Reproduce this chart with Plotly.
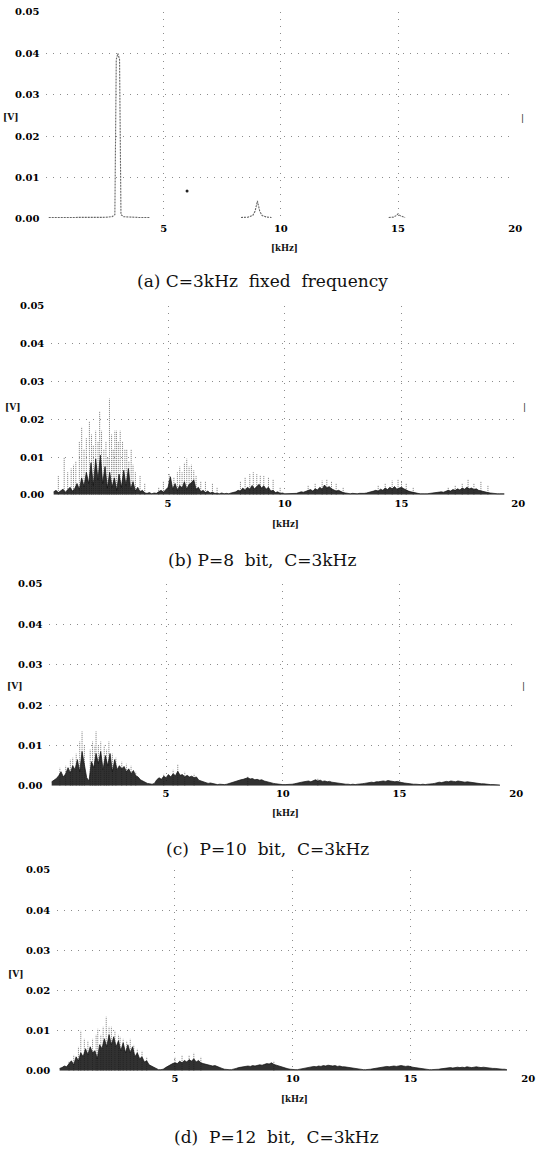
import plotly.graph_objects as go

W, H = 546, 1156

# ---------------- data (amplitudes in mV, frequencies in kHz) ----------------
# (a) C=3kHz fixed frequency : line spectrum with harmonics (None = no trace)
FREQ_A = [0.1, 0.5, 1.0, 1.5, 2.0, 2.5, 2.8, 2.92, 2.98, 3.05, 3.12, 3.18, 3.3, 3.6, 4.0, 4.4,
          None,
          8.3, 8.6, 8.8, 8.9, 9.0, 9.1, 9.2, 9.4, 9.6,
          None,
          14.6, 14.8, 14.9, 15.0, 15.1, 15.2, 15.3]
AMP_A = [0.3, 0.3, 0.3, 0.3, 0.3, 0.35, 0.5, 1.0, 38.5, 40.0, 38.5, 1.0, 0.5, 0.35, 0.3, 0.3,
         None,
         0.3, 0.4, 0.8, 1.8, 4.3, 1.8, 0.8, 0.4, 0.3,
         None,
         0.3, 0.4, 0.7, 1.2, 0.7, 0.4, 0.3]
DOT_A_F = [6.0]
DOT_A_V = [6.7]

# (b) P=8 bit : dense core (0.1 kHz steps from 0.1 kHz) and isolated spikes
CORE_B = [0.8, 1.2, 0.6, 1.0, 1.5, 0.7, 1.3, 2.0, 1.0, 1.6,
          3.0, 1.5, 4.5, 2.2, 6.0, 3.0, 8.5, 2.5, 9.5, 4.0,
          10.5, 3.0, 7.5, 1.8, 6.0, 2.0, 4.5, 1.2, 5.5, 2.0,
          6.5, 2.5, 7.0, 1.5, 3.5, 1.0, 2.0, 0.8, 1.2, 0.5,
          0.4, 0.6, 0.3, 0.5, 0.4, 0.8, 1.2, 0.7, 1.5, 2.0,
          4.8, 1.5, 3.0, 1.2, 2.5, 1.8, 3.5, 1.5, 2.8, 3.2,
          4.0, 1.5, 2.0, 0.8, 1.2, 0.6, 1.0, 0.5, 0.7, 0.4,
          0.4, 0.3, 0.5, 0.3, 0.4, 0.3, 0.5, 0.6, 0.8, 1.2,
          1.0, 1.8, 1.2, 2.0, 1.5, 2.5, 1.6, 2.2, 2.8, 1.8,
          2.4, 1.5, 2.0, 1.0, 1.2, 0.6, 0.8, 0.4, 0.5, 0.3,
          0.3, 0.4, 0.3, 0.5, 0.4, 0.6, 0.8, 0.7, 1.0, 1.2,
          1.4, 1.0, 1.6, 1.3, 2.0, 1.5, 2.6, 1.8, 2.2, 1.6,
          1.4, 1.0, 1.2, 0.8, 0.6, 0.5, 0.4, 0.3, 0.4, 0.3,
          0.3, 0.4, 0.3, 0.4, 0.5, 0.6, 0.8, 1.0, 1.2, 1.0,
          1.5, 1.2, 1.8, 1.4, 2.0, 1.6, 2.2, 1.5, 1.8, 2.0,
          1.6, 1.2, 1.0, 0.8, 0.6, 0.5, 0.4, 0.3, 0.4, 0.3,
          0.3, 0.4, 0.3, 0.4, 0.5, 0.6, 0.8, 0.7, 1.0, 1.2,
          1.0, 1.4, 1.2, 1.6, 1.3, 1.8, 1.5, 2.0, 1.6, 1.8,
          1.4, 1.6, 1.2, 1.0, 0.8, 0.7, 0.6, 0.5, 0.4, 0.4,
          0.3, 0.3, 0.3, 0.3]
SPIKE_B_F = [0.3, 0.55, 0.7, 0.85, 0.95, 1.05, 1.2, 1.3, 1.4, 1.5, 1.63, 1.72, 1.8, 1.9, 2.0,
             2.07, 2.15, 2.25, 2.34, 2.42, 2.49, 2.58, 2.65, 2.72, 2.79, 2.87, 2.95, 3.05,
             3.15, 3.23, 3.32, 3.42, 3.5, 3.6, 3.8, 4.0, 4.6, 4.8, 5.05, 5.25, 5.4, 5.5, 5.6,
             5.7, 5.8, 5.9, 6.0, 6.1, 6.2, 6.4, 6.6, 6.9, 7.1, 8.1, 8.3, 8.5, 8.65, 8.8, 8.95,
             9.1, 9.3, 9.5, 9.8, 11.0, 11.3, 11.6, 11.8, 12.0, 12.2, 12.5, 14.0, 14.3, 14.6,
             14.85, 15.0, 15.2, 15.5, 17.0, 17.3, 17.6, 17.85, 18.1, 18.4, 18.7]
SPIKE_B_V = [5, 10, 6, 7, 8, 9, 14, 18, 12, 15, 19.5, 16, 13, 17, 14,
             22, 17, 12, 14, 10, 25.5, 16, 12, 17, 17, 14, 17, 14,
             12, 12, 9, 12, 8, 6, 5, 3, 2, 3.5, 5.5, 4.5, 6, 7.5, 6,
             8.5, 9.6, 7.5, 8, 6.5, 5, 3.5, 3.5, 3, 2, 3.5, 4.5, 5.5, 6, 5.5, 5.2,
             5, 4.5, 4, 2, 2.5, 3, 3.8, 4, 3.5, 3, 2, 2.5, 3, 3.8,
             4, 3.5, 3, 2, 2, 2.5, 3, 4, 3, 3.5, 2.5]

# (c) P=10 bit
CORE_C = [1.0, 1.3, 1.8, 2.5, 3.5, 2.2, 3.0, 4.5, 3.2, 5.0,
          4.0, 6.5, 3.5, 8.5, 5.0, 2.0, 1.2, 6.0, 4.5, 8.0,
          5.5, 8.5, 4.0, 7.5, 5.0, 8.0, 3.5, 6.5, 4.0, 5.0,
          4.2, 4.8, 3.5, 4.2, 3.0, 3.8, 2.5, 2.2, 1.5, 1.2,
          0.8, 0.6, 0.5, 0.4, 0.6, 1.5, 2.0, 1.6, 2.4, 2.0,
          2.8, 2.2, 3.0, 2.5, 3.6, 2.6, 2.8, 2.2, 2.6, 2.2,
          2.4, 2.0, 2.2, 1.4, 1.2, 1.0, 0.8, 0.6, 0.7, 0.5,
          0.4, 0.3, 0.4, 0.3, 0.3, 0.4, 0.6, 0.8, 1.0, 1.2,
          1.3, 1.5, 1.6, 1.8, 2.0, 1.7, 1.8, 1.5, 1.6, 1.4,
          1.5, 1.2, 1.0, 0.9, 0.7, 0.6, 0.5, 0.4, 0.4, 0.3,
          0.3, 0.3, 0.4, 0.4, 0.5, 0.7, 0.8, 0.9, 1.0, 1.1,
          1.2, 1.0, 1.3, 1.5, 1.2, 1.4, 1.1, 1.2, 1.0, 1.1,
          0.9, 0.8, 0.7, 0.6, 0.5, 0.5, 0.4, 0.4, 0.3, 0.4,
          0.3, 0.4, 0.4, 0.5, 0.6, 0.7, 0.8, 0.9, 0.8, 1.0,
          1.0, 1.1, 1.2, 1.1, 1.3, 1.2, 1.1, 1.0, 1.1, 0.9,
          0.8, 0.7, 0.6, 0.5, 0.5, 0.4, 0.4, 0.3, 0.3, 0.4,
          0.3, 0.4, 0.4, 0.5, 0.6, 0.8, 0.9, 0.8, 1.0, 1.1,
          1.0, 1.2, 1.1, 1.0, 1.2, 1.1, 1.0, 0.9, 1.0, 0.9,
          0.8, 0.7, 0.7, 0.6, 0.5, 0.5, 0.4, 0.4, 0.3, 0.3,
          0.3, 0.2, 0.2]
SPIKE_C_F = [0.45, 0.7, 0.9, 1.0, 1.15, 1.3, 1.4, 1.5, 1.75, 1.85, 1.95, 2.0, 2.1, 2.2,
             2.35, 2.45, 2.55, 2.7, 2.85, 3.1, 3.3, 3.5, 3.7, 4.9, 5.3, 5.5, 5.8, 6.2,
             8.5, 11.5]
SPIKE_C_V = [4.5, 5, 6.5, 7, 8, 11, 13.5, 10, 9, 11, 10, 13.5, 10, 11,
             10, 9, 11, 8, 7, 6, 5.5, 5, 3.5, 3, 4, 5.2, 3.5, 3,
             2.3, 1.8]

# (d) P=12 bit
CORE_D = [0.6, 0.8, 1.2, 1.0, 1.8, 2.5, 1.5, 3.5, 2.5, 4.5,
          3.5, 5.5, 4.0, 6.0, 4.5, 5.0, 3.0, 6.5, 5.5, 8.0,
          6.0, 9.0, 6.5, 8.5, 6.0, 7.5, 5.0, 7.0, 4.5, 6.5,
          4.5, 6.0, 3.5, 4.5, 3.0, 3.5, 2.2, 2.5, 1.5, 1.2,
          0.8, 0.5, 0.3, 0.3, 0.4, 0.8, 1.2, 1.5, 1.8, 2.0,
          1.8, 2.4, 2.0, 2.6, 2.2, 2.8, 2.4, 3.0, 2.2, 2.6,
          2.0, 1.8, 1.6, 1.5, 1.4, 1.2, 1.3, 1.0, 0.8, 0.6,
          0.4, 0.3, 0.3, 0.3, 0.4, 0.6, 0.8, 0.9, 1.0, 1.1,
          1.2, 1.1, 1.3, 1.2, 1.4, 1.5, 1.4, 1.6, 1.8, 1.7,
          2.0, 1.6, 1.4, 1.2, 1.0, 0.8, 0.7, 0.5, 0.4, 0.3,
          0.3, 0.3, 0.4, 0.5, 0.6, 0.8, 0.9, 1.0, 1.1, 1.0,
          1.2, 1.1, 1.3, 1.2, 1.4, 1.3, 1.2, 1.3, 1.1, 1.2,
          1.0, 1.0, 0.9, 0.8, 0.7, 0.6, 0.5, 0.4, 0.4, 0.3,
          0.3, 0.3, 0.4, 0.5, 0.6, 0.7, 0.8, 0.9, 1.0, 1.1,
          1.0, 1.1, 1.2, 1.1, 1.2, 1.3, 1.2, 1.1, 1.2, 1.0,
          0.9, 0.8, 0.7, 0.6, 0.5, 0.4, 0.4, 0.3, 0.3, 0.3,
          0.3, 0.4, 0.5, 0.6, 0.6, 0.7, 0.8, 0.7, 0.8, 0.9,
          0.8, 0.9, 0.8, 1.0, 0.9, 0.8, 0.9, 1.0, 0.9, 0.8,
          0.9, 0.8, 0.7, 0.7, 0.6, 0.6, 0.5, 0.5, 0.4, 0.4,
          0.3]
SPIKE_D_F = [0.5, 0.7, 0.9, 1.0, 1.15, 1.3, 1.5, 1.65, 1.72, 1.85, 1.95, 2.08, 2.2, 2.3,
             2.45, 2.6, 2.67, 2.8, 2.95, 3.1, 3.25, 3.4, 3.6, 3.8, 5.0, 5.3, 5.6, 5.8,
             6.1, 9.2]
SPIKE_D_V = [2.5, 4, 6, 10, 8, 7.5, 8, 9, 10.5, 9, 11, 13.5, 11, 11,
             10, 9, 8.5, 8, 7.5, 8, 6.5, 5.5, 5, 3.5, 3.5, 3.8, 3.8, 4.5,
             3.5, 2.5]

Y_TICKS = [0.0, 0.01, 0.02, 0.03, 0.04, 0.05]
Y_TICK_TEXT = ["0.00", "0.01", "0.02", "0.03", "0.04", "0.05"]
X_TICKS = [0, 5, 10, 15, 20]
X_TICK_TEXT = ["", "5", "10", "15", "20"]

CAPTIONS = ["(a)\u00a0C=3kHz\u00a0\u00a0fixed\u00a0\u00a0frequency",
            "(b)\u00a0P=8\u00a0\u00a0bit,\u00a0\u00a0C=3kHz",
            "(c)\u00a0\u00a0P=10\u00a0\u00a0bit,\u00a0\u00a0C=3kHz",
            "(d)\u00a0\u00a0P=12\u00a0\u00a0bit,\u00a0\u00a0C=3kHz"]

# ---------------- layout geometry (pixels) ----------------
# x0, x20, y(0.05), y(0.00)
PANELS = [(47, 522, 6, 215), (52, 525, 303, 494), (50, 523, 584, 788), (58, 535, 873, 1076)]
KHZ_POS = [(288, 245), (289, 523), (289, 815), (298, 1104)]
V_POS = [(11, 112), (13, 405), (15, 687), (16, 978)]
CAP_POS = [(266, 278), (265, 560), (271, 852), (280, 1143)]
BAR_POS = [(529, 113), (531, 405), (530, 687)]
XLAB_STANDOFF = [2, 1, 0, 0]


def px(x):
    return x / W


def py(y):
    return 1 - y / H


def mv(vals):
    return [None if v is None else v / 1000.0 for v in vals]


def grid(n):
    return [round(0.1 * k, 1) for k in range(1, n + 1)]


def stems(freqs, vals):
    xs, ys = [], []
    for f, v in zip(freqs, vals):
        xs += [f, f, None]
        ys += [0.0, v / 1000.0, None]
    return xs, ys


fig = go.Figure()

GRID_COLOR = "#8c8c8c"
TICK_FONT = dict(family="DejaVu Serif", size=10, color="#000", weight="bold")

for i, (x0, x20, ytop, ybot) in enumerate(PANELS):
    sfx = "" if i == 0 else str(i + 1)
    fig.update_layout(**{
        "xaxis" + sfx: dict(domain=[px(x0), px(x20)], range=[0, 20], anchor="y" + sfx,
                            tickmode="array", tickvals=X_TICKS, ticktext=X_TICK_TEXT,
                            showgrid=True, gridcolor=GRID_COLOR, gridwidth=1, griddash="1px,6px",
                            zeroline=False, showline=False, ticks="", tickfont=TICK_FONT,
                            ticklabelstandoff=XLAB_STANDOFF[i], fixedrange=True),
        "yaxis" + sfx: dict(domain=[py(ybot), py(ytop)], range=[0, 0.05], anchor="x" + sfx,
                            tickmode="array", tickvals=Y_TICKS, ticktext=Y_TICK_TEXT,
                            showgrid=True, gridcolor=GRID_COLOR, gridwidth=1, griddash="1px,6px",
                            zeroline=False, showline=False, ticks="", tickfont=TICK_FONT,
                            ticklabelstandoff=6, fixedrange=True),
    })

# panel (a)
fig.add_trace(go.Scatter(x=FREQ_A, y=mv(AMP_A), mode="lines", xaxis="x", yaxis="y",
                         line=dict(color="#666", width=1.1, dash="2px,1px"), connectgaps=False))
fig.add_trace(go.Scatter(x=DOT_A_F, y=mv(DOT_A_V), mode="markers", xaxis="x", yaxis="y",
                         marker=dict(color="#222", size=3)))

# panels (b)-(d)
for i, (core, sf, sv) in enumerate([(CORE_B, SPIKE_B_F, SPIKE_B_V),
                                     (CORE_C, SPIKE_C_F, SPIKE_C_V),
                                     (CORE_D, SPIKE_D_F, SPIKE_D_V)]):
    ax = str(i + 2)
    sx, sy = stems(sf, sv)
    fig.add_trace(go.Scatter(x=sx, y=sy, mode="lines", xaxis="x" + ax, yaxis="y" + ax,
                             line=dict(color="#7a7a7a", width=1, dash="1px,1px"),
                             connectgaps=False))
    fig.add_trace(go.Scatter(x=grid(len(core)), y=mv(core), mode="lines",
                             xaxis="x" + ax, yaxis="y" + ax, fill="tozeroy",
                             fillcolor="rgba(20,20,20,0.88)",
                             line=dict(color="#111", width=0.7)))

ann = []
for (x, y) in KHZ_POS:
    ann.append(dict(x=px(x), y=py(y), xref="paper", yref="paper", text="[kHz]", showarrow=False,
                    xanchor="center", yanchor="middle",
                    font=dict(family="DejaVu Serif", size=8.5, color="#111", weight="bold")))
for (x, y) in V_POS:
    ann.append(dict(x=px(x), y=py(y), xref="paper", yref="paper", text="[V]", showarrow=False,
                    xanchor="center", yanchor="middle",
                    font=dict(family="DejaVu Serif", size=9, color="#111", weight="bold")))
for (x, y), t in zip(CAP_POS, CAPTIONS):
    ann.append(dict(x=px(x), y=py(y), xref="paper", yref="paper", text=t, showarrow=False,
                    xanchor="center", yanchor="middle",
                    font=dict(family="DejaVu Serif", size=17, color="#111")))
for (x, y) in BAR_POS:
    ann.append(dict(x=px(x), y=py(y), xref="paper", yref="paper", text="|", showarrow=False,
                    xanchor="center", yanchor="middle",
                    font=dict(family="DejaVu Sans", size=9, color="#333")))

fig.update_layout(width=W, height=H, margin=dict(l=0, r=0, t=0, b=0),
                  paper_bgcolor="white", plot_bgcolor="white", showlegend=False,
                  annotations=ann)

# remove the browser's default 8px body margin so the figure sits at the page origin
fig.write_html("out.html", config={"displayModeBar": False},
               post_script="document.body.style.margin='0';")
